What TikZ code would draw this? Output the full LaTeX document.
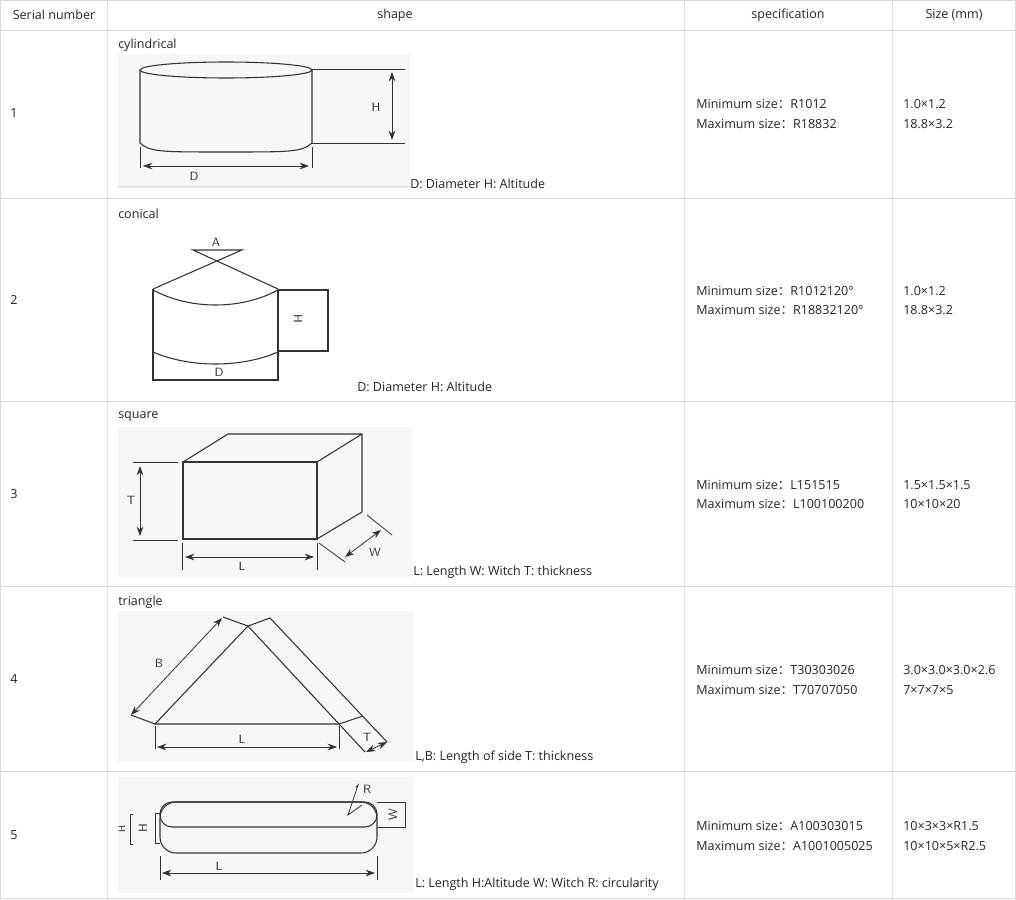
\documentclass[tikz,border=0pt]{standalone}
\usepackage{fontspec}
\setmainfont{Open Sans}
\newfontfamily\cjkf{Noto Sans CJK SC}
\newcommand{\fc}{{\cjkf ：}}
\usetikzlibrary{arrows.meta}
\begin{document}
\begin{tikzpicture}[x=0.75pt,y=-0.75pt,
  txt/.style={font=\fontsize{9.4}{11}\selectfont,inner sep=0pt,text=black!85},
  lt/.style={txt,anchor=west},
  grid/.style={draw=black!15,line width=0.6pt},
  bg/.style={fill=black!3,draw=none},
  sh/.style={draw=black!80,line width=0.8pt},
  dim/.style={draw=black!80,line width=0.6pt},
  ar/.style={dim,{Stealth[length=7pt,width=5pt]}-{Stealth[length=7pt,width=5pt]}},
  lab/.style={font=\sffamily\fontsize{9}{10}\selectfont,inner sep=0pt,text=black!80}]
\useasboundingbox (0,0) rectangle (1016,899);
\fill[white] (0,0) rectangle (1016,899);
% table grid
\foreach \y in {0.5,30,198,401,586,771,898}{\draw[grid] (0,\y) -- (1016,\y);}
\foreach \x in {0.5,107,684,892,1015.5}{\draw[grid] (\x,0) -- (\x,898);}
% header
\node[txt] (h1) at (54,15) {Serial number};
\node[txt] (h2) at (395,15) {shape};
\node[txt] (h3) at (788,15) {specification};
\node[txt] (h4) at (954,15) {Size (mm)};
% row numbers
\node[lt] (n1) at (10,113) {1};
\node[lt] (n2) at (10,300) {2};
\node[lt] (n3) at (10,494) {3};
\node[lt] (n4) at (10,679) {4};
\node[lt] (n5) at (10,835) {5};
% specs
\node[lt] (s1a) at (696,104) {Minimum size\fc R1012};
\node[lt] (s1b) at (696,124) {Maximum size\fc R18832};
\node[lt] (s2a) at (696,291) {Minimum size\fc R1012120°};
\node[lt] (s2b) at (696,310) {Maximum size\fc R18832120°};
\node[lt] (s3a) at (696,485) {Minimum size\fc L151515};
\node[lt] (s3b) at (696,504) {Maximum size\fc L100100200};
\node[lt] (s4a) at (696,670) {Minimum size\fc T30303026};
\node[lt] (s4b) at (696,690) {Maximum size\fc T70707050};
\node[lt] (s5a) at (696,826) {Minimum size\fc A100303015};
\node[lt] (s5b) at (696,846) {Maximum size\fc A1001005025};
% sizes
\node[lt] (z1a) at (903,104) {1.0×1.2};
\node[lt] (z1b) at (903,124) {18.8×3.2};
\node[lt] (z2a) at (903,291) {1.0×1.2};
\node[lt] (z2b) at (903,310) {18.8×3.2};
\node[lt] (z3a) at (903,485) {1.5×1.5×1.5};
\node[lt] (z3b) at (903,504) {10×10×20};
\node[lt] (z4a) at (903,670) {3.0×3.0×3.0×2.6};
\node[lt] (z4b) at (903,690) {7×7×7×5};
\node[lt] (z5a) at (903,826) {10×3×3×R1.5};
\node[lt] (z5b) at (903,846) {10×10×5×R2.5};
% ---------- row 1 cylindrical
\node[lt] (t1) at (118,45) {cylindrical};
\path[bg] (118,54) rectangle (410,187);
\draw[black!10,line width=1pt] (118,187) -- (410,187);
\draw[sh] (226,70) ellipse (86 and 8);
\draw[sh] (140,70) -- (140,143) .. controls (150,152) and (160,152) .. (226,152) .. controls (292,152) and (302,152) .. (312,143) -- (312,70);
\draw[dim] (312,69) -- (405,69) (312,143) -- (405,143);
\draw[ar] (392,72) -- (392,140);
\node[lab] (lH1) at (376,107) {H};
\draw[dim] (140,147) -- (140,168) (312,147) -- (312,168);
\draw[ar] (143,166) -- (309,166);
\node[lab] (lD1) at (194,176) {D};
\node[lt] (c1) at (410,184) {D: Diameter H: Altitude};
% ---------- row 2 conical
\node[lt] (t2) at (118,214) {conical};
\draw[sh] (153,289) -- (242,250) -- (193,250) -- (278,289);
\node[lab] (lA) at (216,242) {A};
\draw[sh,line width=1.2pt] (153,289) -- (153,380) -- (278,380) -- (278,289);
\draw[sh] (153,290) .. controls (190,310) and (241,310) .. (278,290);
\draw[sh] (153,352) .. controls (190,368) and (241,368) .. (278,352);
\draw[sh] (278,290) -- (328,290) -- (328,351) -- (278,351);
\node[lab,rotate=-90] (lH2) at (298,319) {H};
\node[lab] (lD2) at (219,372) {D};
\node[lt] (c2) at (357,387) {D: Diameter H: Altitude};
% ---------- row 3 square
\node[lt] (t3) at (118,417) {square};
\path[bg] (118,427) rectangle (412,577);
\draw[sh] (183,462) rectangle (317,539);
\draw[sh] (183,462) -- (228,434) -- (362,434) -- (362,512) -- (317,539) (317,462) -- (362,434);
\draw[dim] (133,462) -- (178,462) (133,540) -- (178,540);
\draw[ar] (140,466) -- (140,536);
\node[lab] (lT3) at (131,500) {T};
\draw[dim] (182,543) -- (182,570) (317,543) -- (317,570);
\draw[ar] (185,557) -- (314,557);
\node[lab] (lL3) at (242,566) {L};
\draw[dim] (319,543) -- (345,562) (367,515) -- (392,535);
\draw[ar] (345,557) -- (381,530);
\node[lab] (lW3) at (375,552) {W};
\node[lt] (c3) at (413,572) {L: Length W: Witch T: thickness};
% ---------- row 4 triangle
\node[lt] (t4) at (118,602) {triangle};
\path[bg] (118,611) rectangle (414,762);
\draw[sh] (248,626) -- (155,724) -- (339,724) -- (365,752);
\draw[sh] (248,626) -- (339,724);
\draw[sh] (155,724) -- (131,715) (223,617) -- (248,626) -- (270,618) -- (387,742);
\draw[ar] (131,715) -- (222,618);
\draw[sh] (339,724) -- (363,716);
\draw[ar] (366,752) -- (387,742);
\draw[dim] (155,726) -- (155,749) (339,726) -- (339,749);
\draw[ar] (157,747) -- (337,747);
\node[lab] (lB4) at (159,663) {B};
\node[lab] (lL4) at (242,739) {L};
\node[lab] (lT4) at (367,737) {T};
\node[lt] (c4) at (415,757) {L,B: Length of side T: thickness};
% ---------- row 5 capsule
\path[bg] (118,777) rectangle (414,893);
\draw[sh,rounded corners=12pt] (160,802) rectangle (377,853);
\draw[sh,rounded corners=9pt] (160,802) rectangle (377,827);
\draw[dim] (356,787) -- (358,785) -- (348,815) -- (362,805);
\node[lab] (lR5) at (367,789) {R};
\draw[dim] (377,802) -- (405,802) -- (405,827) -- (377,827);
\node[lab,rotate=90] (lW5) at (393,815) {W};
\draw[dim] (160,813) -- (155,813) -- (155,843) -- (160,843);
\node[lab,rotate=90] (lH5) at (143,828) {H};
\draw[dim] (133,814) -- (130,814) -- (130,844) -- (133,844);
\node[lab,rotate=90,font=\sffamily\fontsize{7}{8}\selectfont] (lh5) at (122,829) {H};
\draw[dim] (160,856) -- (160,880) (377,856) -- (377,880);
\draw[ar] (162,873) -- (375,873);
\node[lab] (lL5) at (219,866) {L};
\node[lt] (c5) at (415,884) {L: Length H:Altitude W: Witch R: circularity};
\end{tikzpicture}
\end{document}
